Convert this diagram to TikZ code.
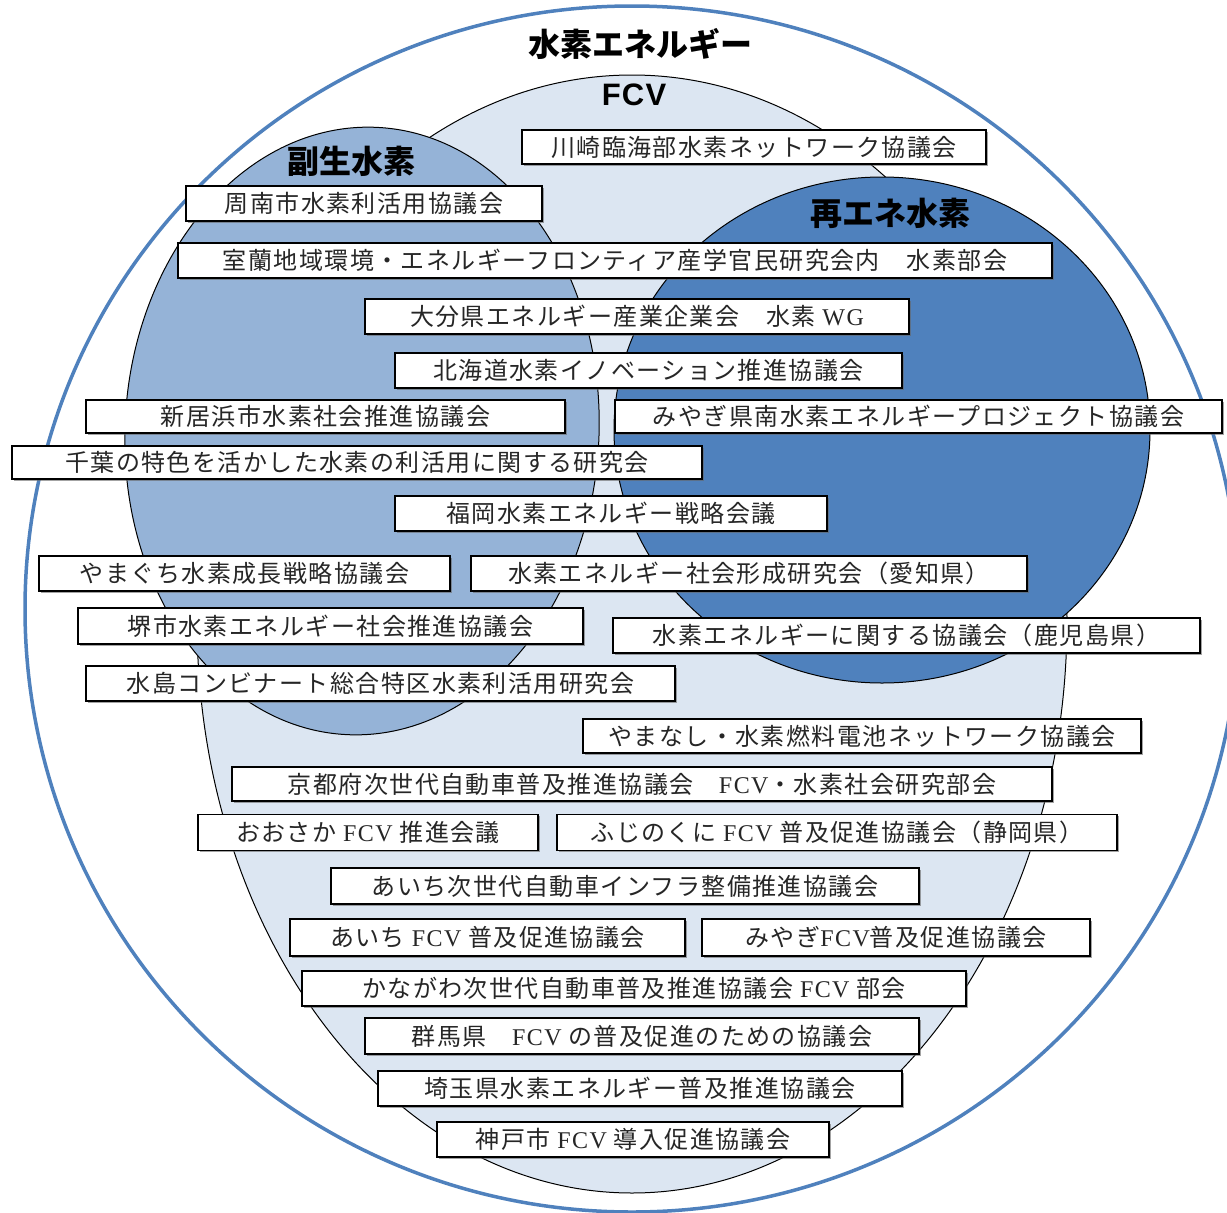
\documentclass[tikz,border=0pt]{standalone}
\usepackage{fontspec}
\newfontfamily\jp{Noto Sans CJK JP}[LetterSpace=6]
\newfontfamily\jptitle{Noto Sans CJK JP}
\newfontfamily\latn{Liberation Serif}[LetterSpace=6]
\newfontfamily\latbold{Liberation Sans}[LetterSpace=4]
\usetikzlibrary{shadows}
\definecolor{outerblue}{HTML}{4F81BD}
\definecolor{fcvfill}{HTML}{DCE6F2}
\definecolor{fukufill}{HTML}{95B3D7}
\definecolor{saifill}{HTML}{4F81BD}
\newcommand\lt[1]{{\latn #1}}
\tikzset{
  orgbox/.style={draw=black, line width=1.3pt, fill=white, inner sep=0pt,
    drop shadow={shadow xshift=1.5pt, shadow yshift=-1.5pt, fill=black!60, opacity=.6},
    font=\jp\fontsize{24}{24}\selectfont, text=black!85},
  areatitle/.style={font=\jptitle\bfseries\fontsize{32}{32}\selectfont, inner sep=0pt},
  shapeline/.style={draw=black, line width=1pt}
}
\begin{document}
\begin{tikzpicture}[x=1pt,y=-1pt]
\useasboundingbox (0,0) rectangle (1227,1213);
% outer ellipse
\begin{scope}
\clip (0,0) rectangle (1227,1213);
\draw[outerblue, line width=3.5pt] (632,609) ellipse [x radius=607, y radius=603];
\end{scope}
% FCV region (egg shape)
\begin{scope}
\clip (0,0) rectangle (1227,620);
\draw[shapeline, fill=fcvfill] (632,620) ellipse [x radius=435, y radius=545];
\end{scope}
\begin{scope}
\clip (0,620) rectangle (1227,1213);
\draw[shapeline, fill=fcvfill] (632,620) ellipse [x radius=435, y radius=573];
\end{scope}
% by-product hydrogen
\draw[shapeline, fill=fukufill, rotate around={-3:(362,431)}] (362,431) ellipse [x radius=237, y radius=304];
% renewable hydrogen
\draw[shapeline, fill=saifill] (882,430) ellipse [x radius=268, y radius=253];
% titles
\node[areatitle] (tall) at (640,44) {水素エネルギー};
\node[font=\latbold\bfseries\fontsize{31}{31}\selectfont, inner sep=0pt] (tfcv) at (634,95) {FCV};
\node[areatitle] (tfuku) at (351,161) {副生水素};
\node[areatitle] (tsai) at (890,213) {再エネ水素};
% boxes
\node[orgbox, minimum width=464pt, minimum height=34pt] (b1) at (754,147) {川崎臨海部水素ネットワーク協議会};
\node[orgbox, minimum width=356pt, minimum height=35pt] (b2) at (364,203.5) {周南市水素利活用協議会};
\node[orgbox, minimum width=874pt, minimum height=35pt] (b3) at (615,260.5) {室蘭地域環境・エネルギーフロンティア産学官民研究会内　水素部会};
\node[orgbox, minimum width=544pt, minimum height=35pt] (b4) at (637,316.5) {大分県エネルギー産業企業会　水素 \lt{WG}};
\node[orgbox, minimum width=507pt, minimum height=35pt] (b5) at (648.5,370.5) {北海道水素イノベーション推進協議会};
\node[orgbox, minimum width=479pt, minimum height=33pt] (b6) at (325.5,416.5) {新居浜市水素社会推進協議会};
\node[orgbox, minimum width=607pt, minimum height=33pt] (b7) at (918.5,416.5) {みやぎ県南水素エネルギープロジェクト協議会};
\node[orgbox, minimum width=690pt, minimum height=33pt] (b8) at (357,462.5) {千葉の特色を活かした水素の利活用に関する研究会};
\node[orgbox, minimum width=432pt, minimum height=35pt] (b9) at (611,513.5) {福岡水素エネルギー戦略会議};
\node[orgbox, minimum width=411pt, minimum height=35pt] (b10) at (244.5,573.5) {やまぐち水素成長戦略協議会};
\node[orgbox, minimum width=556pt, minimum height=35pt] (b11) at (749,573.5) {水素エネルギー社会形成研究会（愛知県）};
\node[orgbox, minimum width=505pt, minimum height=36pt] (b12) at (330.5,626) {堺市水素エネルギー社会推進協議会};
\node[orgbox, minimum width=587pt, minimum height=35pt] (b13) at (906.5,635.5) {水素エネルギーに関する協議会（鹿児島県）};
\node[orgbox, minimum width=589pt, minimum height=35pt] (b14) at (380.5,683.5) {水島コンビナート総合特区水素利活用研究会};
\node[orgbox, minimum width=558pt, minimum height=34pt] (b15) at (862,736) {やまなし・水素燃料電池ネットワーク協議会};
\node[orgbox, minimum width=820pt, minimum height=34pt] (b16) at (642,784) {京都府次世代自動車普及推進協議会　\lt{FCV}・水素社会研究部会};
\node[orgbox, minimum width=340pt, minimum height=36pt] (b17) at (368,832.5) {おおさか \lt{FCV} 推進会議};
\node[orgbox, minimum width=560pt, minimum height=36pt] (b18) at (837,832.5) {ふじのくに \lt{FCV} 普及促進協議会（静岡県）};
\node[orgbox, minimum width=588pt, minimum height=36pt] (b19) at (625,886) {あいち次世代自動車インフラ整備推進協議会};
\node[orgbox, minimum width=395pt, minimum height=37pt] (b20) at (487.5,937.5) {あいち \lt{FCV} 普及促進協議会};
\node[orgbox, minimum width=388pt, minimum height=37pt] (b21) at (896,937.5) {みやぎ\lt{FCV}普及促進協議会};
\node[orgbox, minimum width=664pt, minimum height=35pt] (b22) at (634,988.5) {かながわ次世代自動車普及推進協議会 \lt{FCV} 部会};
\node[orgbox, minimum width=554pt, minimum height=36pt] (b23) at (642,1036) {群馬県　\lt{FCV} の普及促進のための協議会};
\node[orgbox, minimum width=524pt, minimum height=35pt] (b24) at (640,1088.5) {埼玉県水素エネルギー普及推進協議会};
\node[orgbox, minimum width=392pt, minimum height=35pt] (b25) at (633,1139.5) {神戸市 \lt{FCV} 導入促進協議会};
\end{tikzpicture}
\end{document}
